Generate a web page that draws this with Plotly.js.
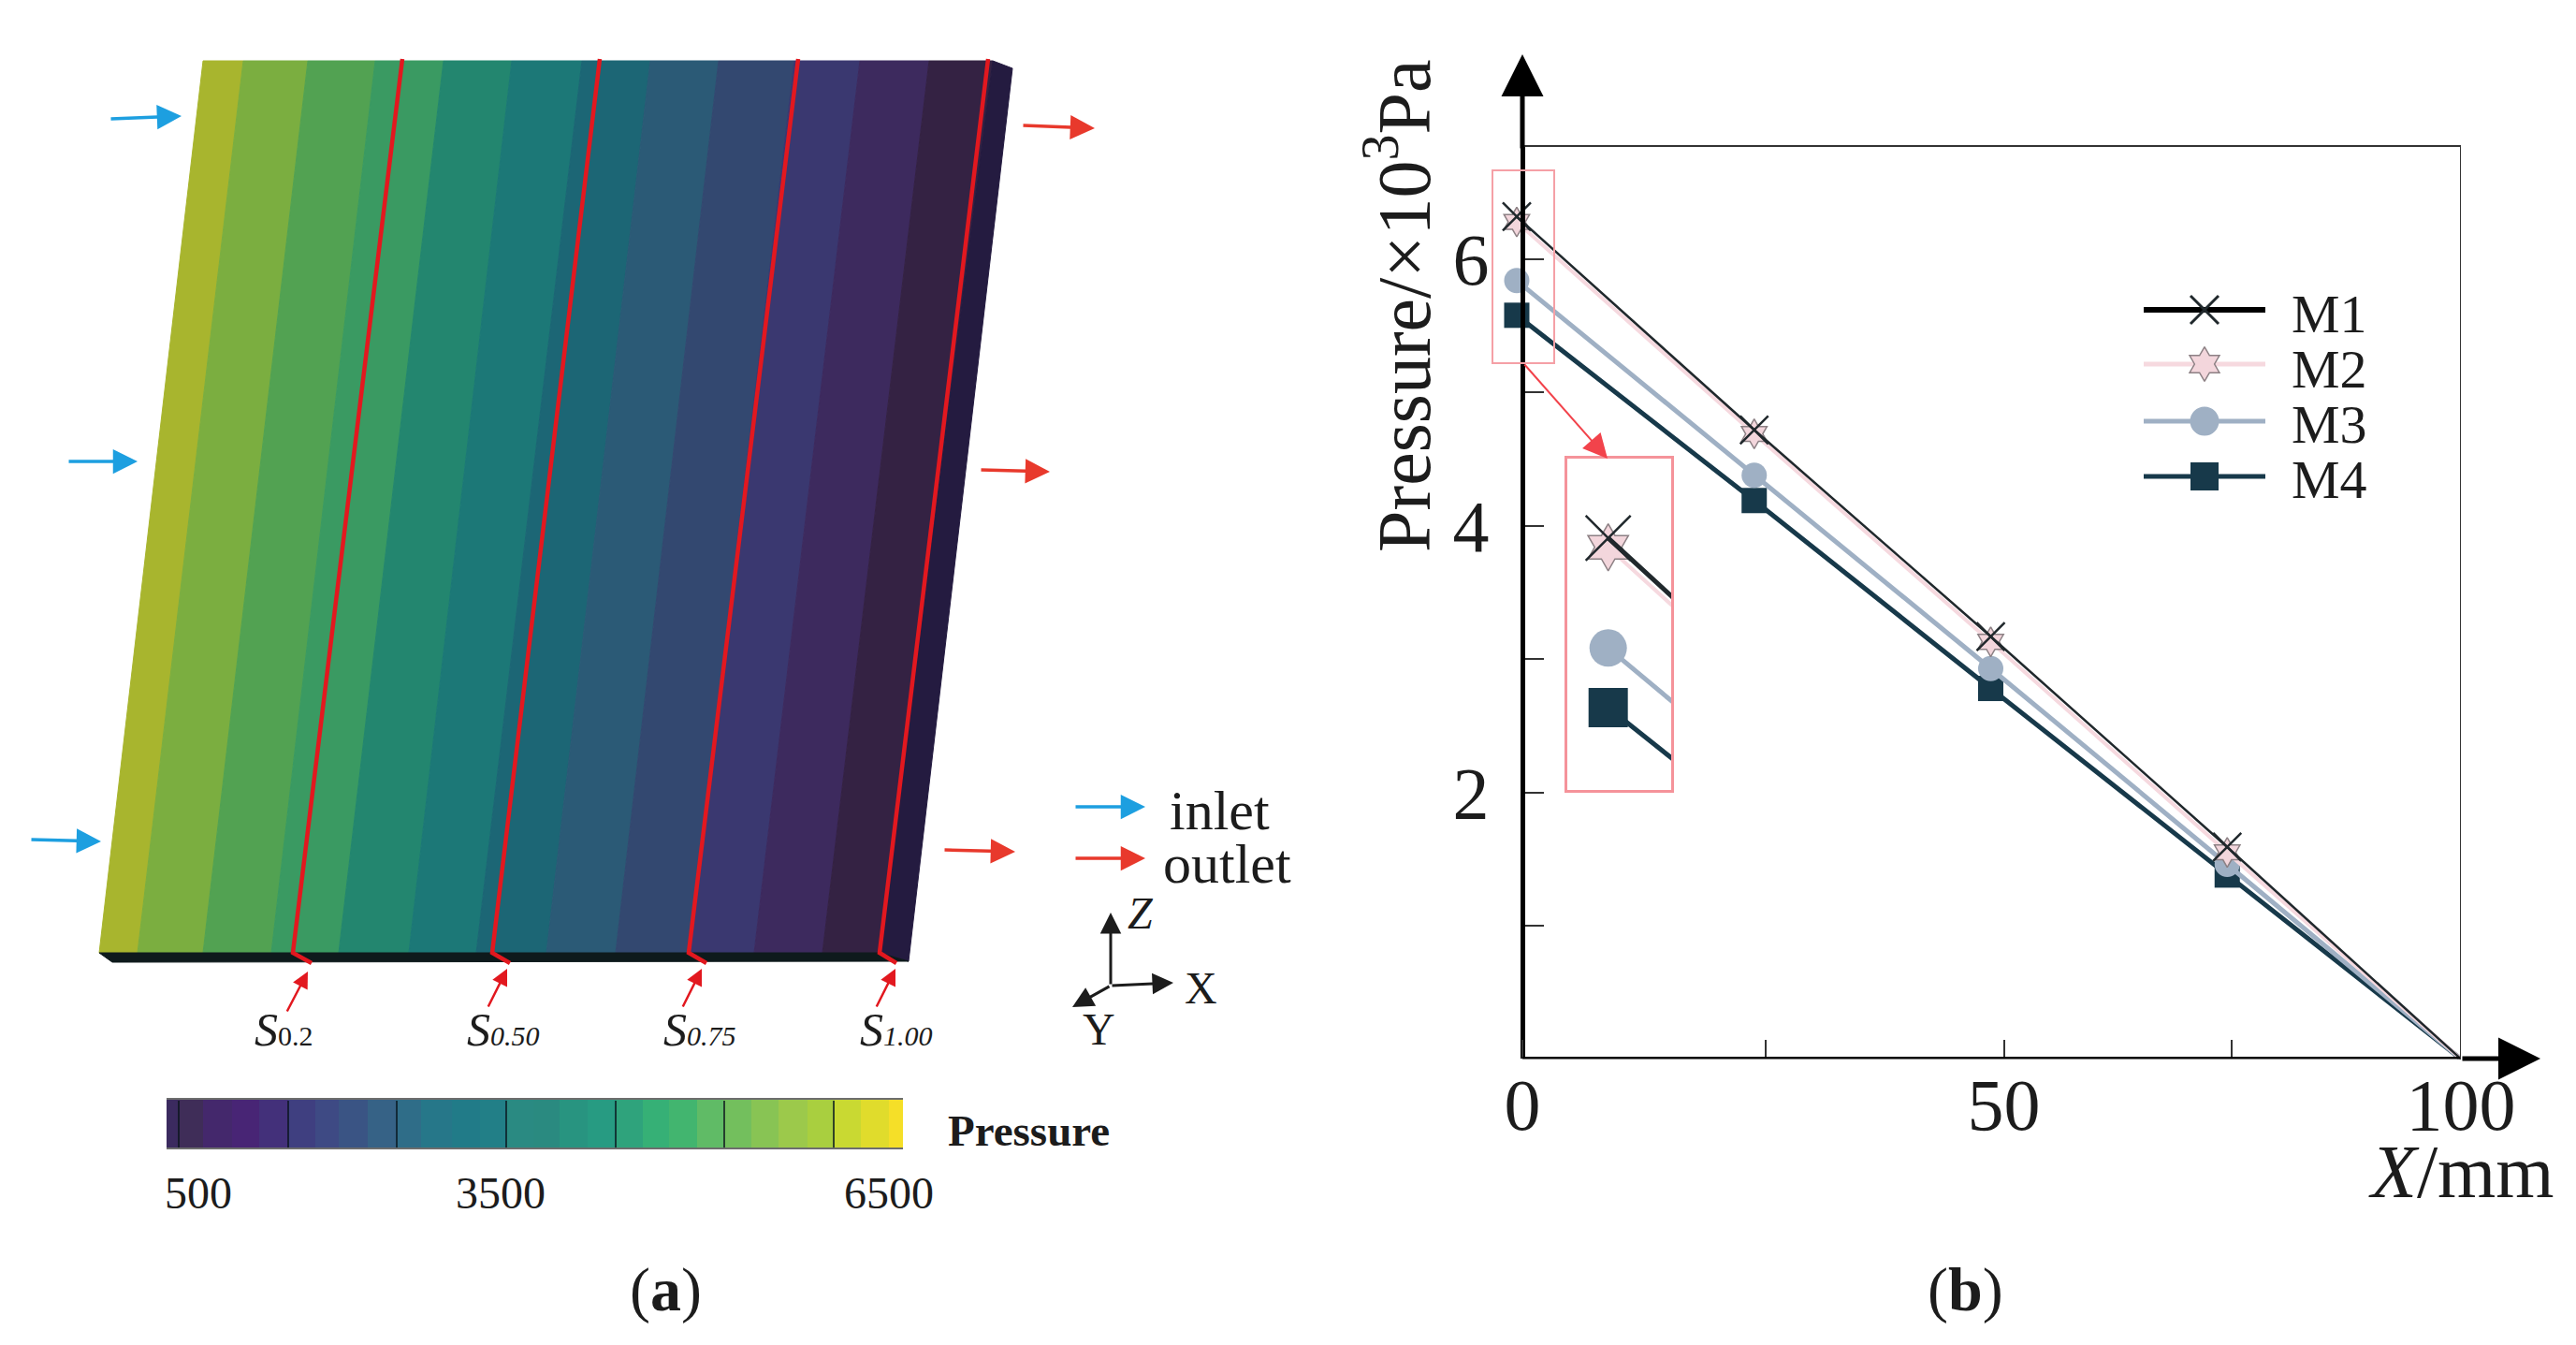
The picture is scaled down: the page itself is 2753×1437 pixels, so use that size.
<!DOCTYPE html>
<html>
<head>
<meta charset="utf-8">
<script src="https://cdn.plot.ly/plotly-3.0.1.min.js"></script>
<style>html,body{margin:0;padding:0;background:#fff}</style>
</head>
<body>
<div id="chart" style="width:2753px;height:1437px"></div>
<script>
// ---- Panel (b) data
const stationX = [-0.6, 24.7, 49.9, 75.1, 100];
const m1 = [6.32, 4.72, 3.17, 1.59, 0];
const m2 = [6.28, 4.69, 3.13, 1.55, 0];
const m3 = [5.84, 4.38, 2.93, 1.46, 0];
const m4 = [5.58, 4.19, 2.78, 1.38, 0];
const seriesNames = ['M1', 'M2', 'M3', 'M4'];
const xTickVals = [0, 51.3, 100];
const xTickText = ['0', '50', '100'];
const xMinorTicks = [25.9, 75.6];
const yTickVals = [2, 4, 6];
const yTickText = ['2', '4', '6'];
const yMinorTicks = [1, 3, 5];
const insetXRange = [-3.19, 3.39];
const insetYRange = [5.22, 6.667];

// ---- Panel (a) contour bands: boundary positions on the slab's top and bottom edges
const bandTopX = [217, 260, 329, 401, 474, 547, 622, 695, 768, 849, 919, 993, 1061];
const bandBottomX = [106, 147, 217, 290, 362, 437, 509, 584, 658, 736, 806, 879, 940];
const bandColors = ['#a8b52e', '#7bae40', '#52a252', '#3a9a62', '#23866f', '#1c7877', '#1c6675', '#2b5a76', '#334870', '#3a3870', '#3d2a5e', '#342243'];
const sectionTopX = [430, 641, 853, 1056];
const sectionBottomX = [313, 526, 736, 940];
const sectionHookX = [333, 545, 755, 958];
const sectionLabels = ['0.2', '0.50', '0.75', '1.00'];
const sectionLabelX = [303, 538, 748, 958];

// ---- Colour bar
const levelEdges = [500, 591, 797, 1034, 1255, 1491, 1712, 1903, 2139, 2368, 2574, 2825, 3054, 3267, 3489, 3702, 3931, 4160, 4381, 4594, 4823, 5037, 5265, 5487, 5723, 5944, 6157, 6386, 6500];
const levelColors = ['#3b2a5f', '#3f2d58', '#44286c', '#482575', '#43307a', '#3f3f80', '#3e4a84', '#3a5484', '#366286', '#2f6d88', '#267789', '#217b88', '#227f87', '#2a8a82', '#2a8a80', '#289480', '#279b82', '#2fa37c', '#36b076', '#42b56f', '#60bb66', '#73bf5d', '#88c454', '#9cc94b', '#a9cf3f', '#c9d932', '#e0dc2c', '#f5df28'];
const levelTicks = [596, 1489, 2372, 3265, 4163, 5040, 5936];

// ---- Page geometry
const W = 2753, H = 1437;
const serif = 'Liberation Serif, Times New Roman, serif';
const ink = '#1c1c1c';
const c = {m1: '#20282c', m2: '#f6d9df', m3: '#9fb0c4', m4: '#17394a'};
const RED = '#e8392c', BLUE = '#1d9fe0', SECT = '#e2181f';

const slabTop = 65, slabBottom = 1018;
const traces = [];

// slab
bandColors.forEach((col, i) => {
  traces.push({
    type: 'scatter', xaxis: 'x2', yaxis: 'y2', mode: 'lines', fill: 'toself', fillcolor: col,
    line: {color: col, width: 1}, hoverinfo: 'skip',
    x: [bandTopX[i], bandTopX[i + 1], bandBottomX[i + 1], bandBottomX[i], bandTopX[i]],
    y: [slabTop, slabTop, slabBottom, slabBottom, slabTop]
  });
});
traces.push({type: 'scatter', xaxis: 'x2', yaxis: 'y2', mode: 'lines', fill: 'toself', fillcolor: '#241b40',
  line: {color: '#241b40', width: 1}, hoverinfo: 'skip',
  x: [1061, 1082, 971, 940, 1061], y: [slabTop, 73, 1027, slabBottom, slabTop]});
traces.push({type: 'scatter', xaxis: 'x2', yaxis: 'y2', mode: 'lines', fill: 'toself', fillcolor: '#0e1a1c',
  line: {color: '#0e1a1c', width: 1}, hoverinfo: 'skip',
  x: [106, 120, 971, 940, 106], y: [slabBottom, 1028, 1027, slabBottom, slabBottom]});
sectionTopX.forEach((tx, i) => {
  traces.push({type: 'scatter', xaxis: 'x2', yaxis: 'y2', mode: 'lines', hoverinfo: 'skip',
    line: {color: SECT, width: 4.5},
    x: [tx, sectionBottomX[i] + 1, sectionBottomX[i], sectionHookX[i]],
    y: [slabTop - 2, 1005, 1018, 1029]});
});

// colour bar
const mids = levelColors.map((_, i) => (levelEdges[i] + levelEdges[i + 1]) / 2);
const zMin = mids[0], zMax = mids[mids.length - 1];
traces.push({
  type: 'heatmap', xaxis: 'x4', yaxis: 'y4', x: levelEdges, y: [0, 1], z: [mids], showscale: false,
  zmin: zMin, zmax: zMax, zsmooth: false, hoverinfo: 'skip',
  colorscale: mids.map((m, i) => [(m - zMin) / (zMax - zMin), levelColors[i]])
});

// Line series, main plot and magnified inset
const styles = [
  {name: seriesNames[3], y: m4, color: c.m4, width: 5, sym: 'square', main: 27, inset: 42, lc: c.m4, lw: 0},
  {name: seriesNames[2], y: m3, color: c.m3, width: 5, sym: 'circle', main: 27, inset: 40, lc: c.m3, lw: 0},
  {name: seriesNames[1], y: m2, color: c.m2, width: 4, sym: 'hexagram', main: 24, inset: 38, lc: '#8c8084', lw: 1.5, fill: '#f3d6dc'},
  {name: seriesNames[0], y: m1, color: c.m1, width: 2.5, sym: 'x-thin', main: 30, inset: 48, lc: c.m1, lw: 2.5}
];
styles.forEach(s => {
  traces.push({
    type: 'scatter', mode: 'lines+markers', name: s.name, x: stationX, y: s.y, cliponaxis: false,
    line: {color: s.color, width: s.width},
    marker: {symbol: s.sym, size: stationX.map(v => v === 100 ? 0 : s.main), opacity: 1, color: s.fill || s.color,
      line: {color: s.lc, width: stationX.map(v => v === 100 ? 0 : s.lw)}}
  });
  traces.push({
    type: 'scatter', mode: 'lines+markers', name: s.name, x: stationX, y: s.y, xaxis: 'x3', yaxis: 'y3',
    cliponaxis: true, hoverinfo: 'skip',
    line: {color: s.color, width: s.name === 'M1' ? 5 : s.width},
    marker: {symbol: s.sym, size: s.inset, color: s.fill || s.color, line: {color: s.lc, width: s.lw}}
  });
});

// Legend keys
const keyY = [331, 389, 450, 509];
const textY = [335, 394, 453, 512];
const keyX = [2291, 2356, 2421];
const keys = [
  {color: '#000', width: 6, sym: 'x-thin', size: 30, fill: c.m1, lc: c.m1, lw: 3},
  {color: c.m2, width: 5, sym: 'hexagram', size: 28, fill: '#f3d6dc', lc: '#8c8084', lw: 1.5},
  {color: c.m3, width: 5, sym: 'circle', size: 31, fill: c.m3, lc: c.m3, lw: 0},
  {color: c.m4, width: 5, sym: 'square', size: 30, fill: c.m4, lc: c.m4, lw: 0}
];
keys.forEach((k, i) => {
  traces.push({type: 'scatter', mode: 'lines+markers', xaxis: 'x2', yaxis: 'y2', hoverinfo: 'skip',
    name: seriesNames[i], x: keyX, y: keyX.map(() => keyY[i]),
    line: {color: k.color, width: k.width},
    marker: {symbol: k.sym, size: [0, k.size, 0], opacity: 1, color: k.fill, line: {color: k.lc, width: [0, k.lw, 0]}}
  });
});

// Annotations
function text(x, y, t, size, o) {
  return Object.assign({xref: 'x2', yref: 'y2', x, y, text: t, showarrow: false, xanchor: 'center', yanchor: 'middle',
    font: {family: serif, size, color: ink}}, o || {});
}
function arrow(x0, y0, x1, y1, color, width, size) {
  return {xref: 'x2', yref: 'y2', axref: 'x2', ayref: 'y2', x: x1, y: y1, ax: x0, ay: y0, text: '', showarrow: true,
    arrowhead: 2, arrowcolor: color, arrowwidth: width, arrowsize: size, standoff: 0};
}
const annotations = [
  arrow(117, 127, 194, 124, BLUE, 3.5, 1.5), arrow(72, 493, 147, 493, BLUE, 3.5, 1.5), arrow(32, 897, 108, 899, BLUE, 3.5, 1.5),
  arrow(1092, 134, 1170, 137, RED, 3.5, 1.5), arrow(1047, 502, 1122, 504, RED, 3.5, 1.5), arrow(1008, 908, 1085, 910, RED, 3.5, 1.5),
  arrow(1148, 862, 1224, 862, BLUE, 3.5, 1.5), arrow(1148, 917, 1224, 917, RED, 3.5, 1.5),
  text(1248, 866, 'inlet', 60, {xanchor: 'left'}), text(1241, 923, 'outlet', 60, {xanchor: 'left'}),
  arrow(306, 1082, 329, 1038, SECT, 2.5, 1.4), arrow(521, 1077, 542, 1035, SECT, 2.5, 1.4),
  arrow(729, 1077, 750, 1035, SECT, 2.5, 1.4), arrow(936, 1077, 957, 1035, SECT, 2.5, 1.4),
  arrow(1187, 1053, 1187, 975, ink, 3, 1.5), arrow(1187, 1053, 1254, 1050, ink, 3, 1.5), arrow(1187, 1053, 1146, 1076, ink, 3, 1.5),
  text(1219, 975, '<i>Z</i>', 48), text(1283, 1055, 'X', 48), text(1174, 1099, 'Y', 48),
  text(212, 1274, '500', 48), text(535, 1274, '3500', 48), text(950, 1274, '6500', 48),
  text(1099, 1208, '<b>Pressure</b>', 47),
  text(711, 1378, '(<b>a</b>)', 66), text(2100, 1378, '(<b>b</b>)', 66),
  text(1494, 327, 'Pressure/×10<sup>3</sup>Pa', 80, {textangle: -90}),
  text(2630, 1252, '<i>X</i>/mm', 80),
  arrow(1627, 160, 1627, 58, '#000', 5, 1.8), arrow(2630, 1131, 2715, 1131, '#000', 5, 1.8),
  arrow(1628, 388, 1718, 490, '#f2434b', 2, 2.6)
];
sectionLabels.forEach((t, i) => {
  const body = i === 0 ? t : '<i>' + t + '</i>';
  annotations.push(text(sectionLabelX[i], 1100, '<i>S</i><span style="font-size:30px">' + body + '</span>', 50));
});
seriesNames.forEach((n, i) => annotations.push(text(2447, textY[i], n, 58, {xanchor: 'left'})));

// The x axis range opens a little below 0 so the first markers can sit left of the y axis.
const pxPerX = (2630 - 1627) / 100;
const xStart = -4;
const xDomainLeft = 1627 + xStart * pxPerX;

const layout = {
  width: W, height: H, autosize: false, showlegend: false,
  margin: {l: 0, r: 0, t: 0, b: 0, pad: 0},
  paper_bgcolor: '#fff', plot_bgcolor: 'rgba(0,0,0,0)',
  font: {family: serif, color: ink},
  xaxis: {domain: [xDomainLeft / W, 2630 / W], range: [xStart, 100], anchor: 'y', tickmode: 'array', tickvals: xTickVals, ticktext: xTickText,
    ticks: 'inside', ticklen: 20, tickwidth: 2, tickcolor: '#333', showline: false,
    minor: {tickmode: 'array', tickvals: xMinorTicks, ticks: 'inside', ticklen: 20, tickwidth: 2, tickcolor: '#333', showgrid: false},
    showgrid: false, zeroline: false, ticklabelstandoff: -3, tickfont: {family: serif, size: 78, color: ink}},
  yaxis: {domain: [1 - 1131.4 / H, 1 - 156 / H], range: [0, 6.85], anchor: 'free', position: 1627 / W, tickmode: 'array', tickvals: yTickVals, ticktext: yTickText,
    ticks: 'inside', ticklen: 20, tickwidth: 2, tickcolor: '#333', showline: true, linewidth: 5, linecolor: '#000',
    minor: {tickmode: 'array', tickvals: yMinorTicks, ticks: 'inside', ticklen: 20, tickwidth: 2, tickcolor: '#333', showgrid: false},
    showgrid: false, zeroline: false, ticklabelstandoff: 18, tickfont: {family: serif, size: 78, color: ink}},
  xaxis2: {domain: [0, 1], range: [0, W], anchor: 'y2', visible: false, fixedrange: true},
  yaxis2: {domain: [0, 1], range: [H, 0], anchor: 'x2', visible: false, fixedrange: true},
  xaxis3: {domain: [1675 / W, 1786 / W], range: insetXRange, anchor: 'y3', showline: true, mirror: true, linewidth: 2.5, linecolor: '#f5939a',
    showticklabels: false, ticks: '', showgrid: false, zeroline: false},
  yaxis3: {domain: [1 - 844 / H, 1 - 490 / H], range: insetYRange, anchor: 'x3', showline: true, mirror: true, linewidth: 2.5, linecolor: '#f5939a',
    showticklabels: false, ticks: '', showgrid: false, zeroline: false},
  xaxis4: {domain: [178 / W, 965 / W], range: [500, 6500], anchor: 'y4', tickmode: 'array', tickvals: levelTicks, ticks: 'inside', ticklen: 50, tickwidth: 2,
    tickcolor: 'rgba(10,20,30,0.75)', showticklabels: false, showgrid: false, zeroline: false, showline: true, mirror: true, linewidth: 2, linecolor: '#6d6d6d'},
  yaxis4: {domain: [1 - 1226 / H, 1 - 1175 / H], range: [0, 1], anchor: 'x4', showticklabels: false, ticks: '', showgrid: false, zeroline: false},
  shapes: [
    {type: 'line', xref: 'x', yref: 'y', x0: 0, x1: 100, y0: 0, y1: 0, line: {color: '#000', width: 5}},
    {type: 'line', xref: 'x', yref: 'y domain', x0: 0, x1: 100, y0: 1, y1: 1, line: {color: '#333', width: 2}},
    {type: 'line', xref: 'x', yref: 'y domain', x0: 100, x1: 100, y0: 0, y1: 1, line: {color: '#333', width: 2}},
    {type: 'rect', xref: 'x', yref: 'y', x0: insetXRange[0], x1: insetXRange[1], y0: insetYRange[0], y1: insetYRange[1], line: {color: '#f5a0a6', width: 2}}
  ],
  annotations
};

Plotly.newPlot('chart', traces, layout, {displayModeBar: false, responsive: false});
</script>
</body>
</html>
